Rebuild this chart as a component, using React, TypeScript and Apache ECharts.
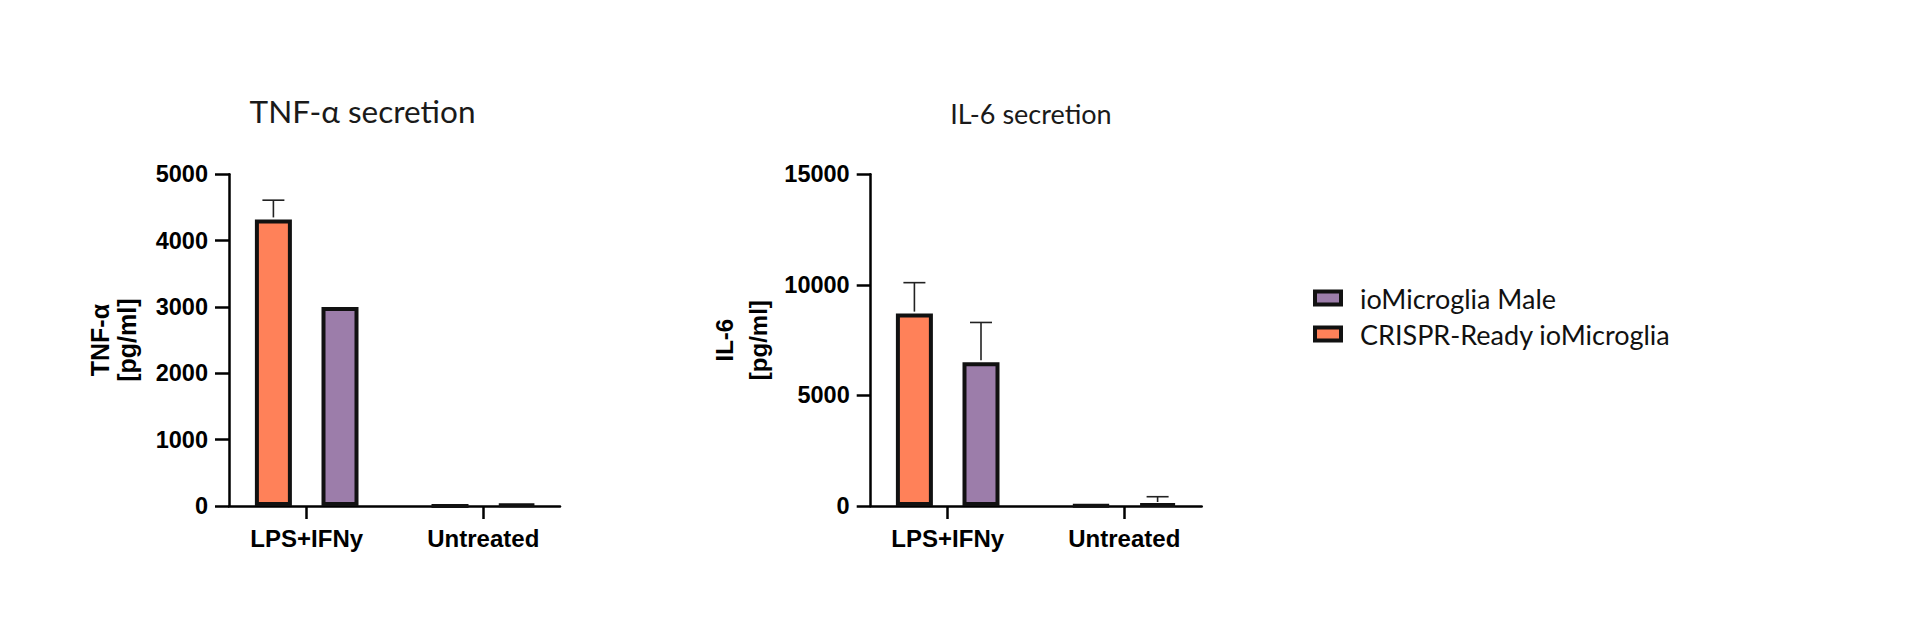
import React, { useEffect, useRef } from "react";
import * as echarts from "echarts";

// ---------- data ----------
const categories = ["LPS+IFNy", "Untreated"];
const seriesNames = ["CRISPR-Ready ioMicroglia", "ioMicroglia Male"];
const legendOrder = ["ioMicroglia Male", "CRISPR-Ready ioMicroglia"];

const tnfCrisprMean = [4320, 0];
const tnfCrisprSD = [290, 0];
const tnfMaleMean = [3000, 20];
const tnfMaleSD = [0, 0];

const il6CrisprMean = [8700, 30];
const il6CrisprSD = [1400, 0];
const il6MaleMean = [6500, 90];
const il6MaleSD = [1800, 330];

const tnfTicks = { min: 0, max: 5000, interval: 1000 };
const il6Ticks = { min: 0, max: 15000, interval: 5000 };

const titles = ["TNF-α secretion", "IL-6 secretion"];
const yNames = ["TNF-α\n[pg/ml]", "IL-6\n[pg/ml]"];

// ---------- styles ----------
const COLORS = ["#FF8159", "#9C7DAA"];
const BORDER = "#111111";
const BAR_W = 37;
const BAR_GAP = 0.8;
const CAP_W = 22;
const OFFSET = (BAR_W * (1 + BAR_GAP)) / 2;
const TICK_FONT = "Liberation Sans";
const TITLE_FONT = "Lato";

const GRID_TOP = 174.3;
const GRID_H = 331.7;
const AXIS_W = 331;
const CAT_W = 353.2;
const charts = [
  { axisLeft: 229, catLeft: 218.4, ticks: tnfTicks, nameGap: 89, nameSize: 25, nameLH: 27, titleX: 362.5, titleY: 111, titleSize: 31.5 },
  { axisLeft: 870.7, catLeft: 859.4, ticks: il6Ticks, nameGap: 95, nameSize: 24, nameLH: 34, titleX: 1031, titleY: 113.5, titleSize: 27 },
];

const allData = [
  [
    { mean: tnfCrisprMean, sd: tnfCrisprSD },
    { mean: tnfMaleMean, sd: tnfMaleSD },
  ],
  [
    { mean: il6CrisprMean, sd: il6CrisprSD },
    { mean: il6MaleMean, sd: il6MaleSD },
  ],
];

function buildOption() {
  const grid: any[] = [];
  const xAxis: any[] = [];
  const yAxis: any[] = [];
  const series: any[] = [];
  const graphic: any[] = [];

  charts.forEach((c, ci) => {
    grid.push({ left: c.axisLeft, top: GRID_TOP, width: AXIS_W, height: GRID_H, containLabel: false });
    grid.push({ left: c.catLeft, top: GRID_TOP, width: CAT_W, height: GRID_H, containLabel: false });
    const gA = ci * 2;
    const gB = ci * 2 + 1;

    xAxis.push({
      type: "value",
      gridIndex: gA,
      min: 0,
      max: 1,
      axisLine: { show: true, lineStyle: { color: "#000", width: 2.5 } },
      axisTick: { show: false },
      axisLabel: { show: false },
      splitLine: { show: false },
    });
    xAxis.push({
      type: "category",
      gridIndex: gB,
      data: categories,
      axisLine: { show: false },
      axisTick: { show: true, alignWithLabel: true, length: 13, lineStyle: { color: "#000", width: 2.5 } },
      axisLabel: {
        show: true,
        margin: 20,
        fontFamily: TICK_FONT,
        fontWeight: "bold",
        fontSize: 24,
        color: "#000",
      },
      splitLine: { show: false },
    });

    yAxis.push({
      type: "value",
      gridIndex: gA,
      min: c.ticks.min,
      max: c.ticks.max,
      interval: c.ticks.interval,
      axisLine: { show: true, lineStyle: { color: "#000", width: 2.5 } },
      axisTick: { show: true, length: 14, lineStyle: { color: "#000", width: 2.5 } },
      axisLabel: {
        margin: 21,
        fontFamily: TICK_FONT,
        fontWeight: "bold",
        fontSize: 23.5,
        color: "#000",
        formatter: (v: number) => String(v),
      },
      splitLine: { show: false },
      name: yNames[ci],
      nameLocation: "middle",
      nameGap: c.nameGap,
      nameRotate: 90,
      nameTextStyle: {
        fontFamily: TICK_FONT,
        fontWeight: "bold",
        fontSize: c.nameSize,
        lineHeight: c.nameLH,
        color: "#000",
        align: "center",
      },
    });
    yAxis.push({
      type: "value",
      gridIndex: gB,
      min: c.ticks.min,
      max: c.ticks.max,
      show: false,
      splitLine: { show: false },
    });

    const xi = ci * 2 + 1;
    const yi = ci * 2 + 1;
    allData[ci].forEach((s, si) => {
      series.push({
        type: "bar",
        name: seriesNames[si],
        xAxisIndex: xi,
        yAxisIndex: yi,
        data: s.mean,
        barWidth: BAR_W,
        barGap: BAR_GAP * 100 + "%",
        itemStyle: { color: COLORS[si], borderColor: BORDER, borderWidth: 4 },
        emphasis: { disabled: true },
      });
    });
    allData[ci].forEach((s, si) => {
      const sign = si === 0 ? -1 : 1;
      series.push({
        type: "custom",
        xAxisIndex: xi,
        yAxisIndex: yi,
        z: 5,
        silent: true,
        data: s.mean.map((m, k) => [k, m, s.sd[k]]),
        encode: { x: 0, y: 1 },
        renderItem: (params: any, api: any) => {
          const cat = api.value(0);
          const mean = api.value(1);
          const sd = api.value(2);
          if (!sd) return null;
          const p0 = api.coord([cat, mean]);
          const p1 = api.coord([cat, mean + sd]);
          const x = p0[0] + sign * OFFSET;
          const st = { stroke: "#222", lineWidth: 1.6 };
          return {
            type: "group",
            children: [
              { type: "line", shape: { x1: x, y1: p0[1] - 2, x2: x, y2: p1[1] }, style: st },
              { type: "line", shape: { x1: x - CAP_W / 2, y1: p1[1], x2: x + CAP_W / 2, y2: p1[1] }, style: st },
            ],
          };
        },
      });
    });

    graphic.push({
      type: "text",
      x: c.titleX,
      y: c.titleY,
      style: {
        text: titles[ci],
        fontFamily: TITLE_FONT,
        fontSize: c.titleSize,
        fill: "#1a1a1a",
        textAlign: "center",
        textVerticalAlign: "middle",
      },
    });
  });

  return {
    animation: false,
    backgroundColor: "#ffffff",
    grid,
    xAxis,
    yAxis,
    series,
    graphic,
    legend: {
      data: legendOrder,
      orient: "vertical",
      left: 1313,
      top: 284,
      padding: 0,
      itemWidth: 26,
      itemHeight: 13,
      itemGap: 8,
      icon: "rect",
      itemStyle: { borderColor: BORDER, borderWidth: 4 },
      selectedMode: false,
      textStyle: {
        fontFamily: TITLE_FONT,
        fontSize: 27,
        lineHeight: 28,
        color: "#111",
        padding: [0, 0, 0, 14],
      },
    },
  };
}

export default function App() {
  const ref = useRef<HTMLDivElement>(null);
  useEffect(() => {
    if (!ref.current) return;
    const chart = echarts.init(ref.current, undefined, { renderer: "svg" });
    chart.setOption(buildOption() as any);
    return () => chart.dispose();
  }, []);
  return (
    <div
      ref={ref}
      style={{ position: "absolute", left: 0, top: 0, width: 1920, height: 640, background: "#fff" }}
    />
  );
}
